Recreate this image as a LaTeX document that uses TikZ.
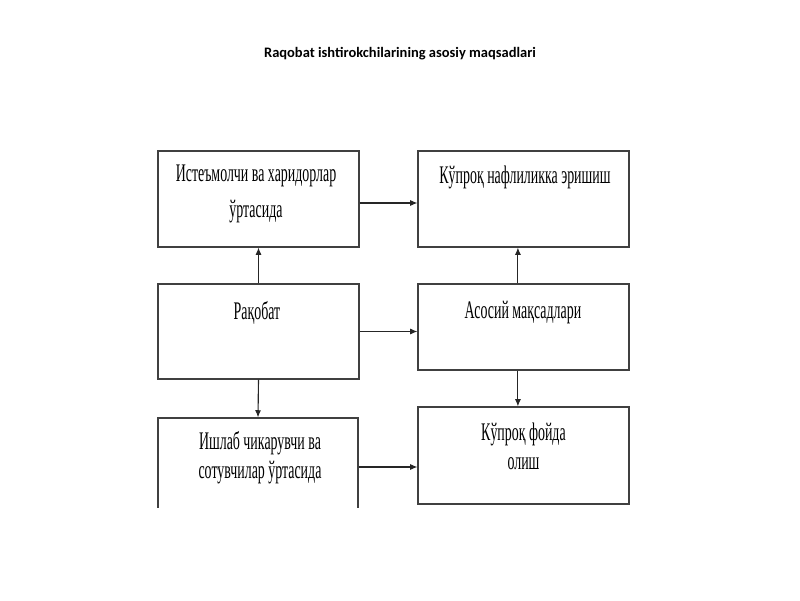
\documentclass[tikz,border=0pt]{standalone}
\usepackage{fontspec}
\usetikzlibrary{arrows.meta}
\setmainfont{Liberation Serif}
\newfontfamily\boxfont[FakeStretch=0.55]{Liberation Serif}
\newfontfamily\titlefont{Carlito}
\begin{document}
\begin{tikzpicture}

\tikzset{box/.style={draw=black!75,line width=0.8pt,rectangle,inner sep=0pt}}
\tikzset{txt/.style={font=\boxfont\fontsize{18}{21}\selectfont,align=center,inner sep=0pt}}
\tikzset{toBox/.style={-{Latex[length=1.8mm,width=1.5mm]},line width=0.8pt,color=black!85}}

\useasboundingbox (0,0) rectangle (20,15);

\node[font=\titlefont\bfseries\fontsize{10.3}{12}\selectfont] (title) at (10,13.65) {Raqobat ishtirokchilarining asosiy maqsadlari};

% left column
\node[box,minimum width=5.025cm,minimum height=2.4cm] (ist) at (6.4625,10.025) {};
\node[box,minimum width=5.025cm,minimum height=2.375cm] (raq) at (6.4625,6.7125) {};
\begin{scope}
\clip (0,2.325) rectangle (20,15);
\node[box,minimum width=5cm,minimum height=2.45cm] (ish) at (6.45,3.325) {};
\end{scope}

% right column
\node[box,minimum width=5.275cm,minimum height=2.4cm] (kup) at (13.0875,10.025) {};
\node[box,minimum width=5.275cm,minimum height=2.15cm] (aso) at (13.0875,6.825) {};
\node[box,minimum width=5.275cm,minimum height=2.425cm] (foy) at (13.0875,3.6125) {};

% texts
\node[txt] (istT) at (6.4,10.15) {Истеъмолчи ва харидорлар\\[5pt]ўртасида};
\node[txt] (raqT) at (6.425,7.175) {Рақобат};
\node[txt] (ishT) at (6.5,3.5625) {Ишлаб чикарувчи ва\\сотувчилар ўртасида};
\node[txt] (kupT) at (13.125,10.575) {Кўпроқ нафлиликка эришиш};
\node[txt] (asoT) at (13.075,7.175) {Асосий мақсадлари};
\node[txt] (foyT) at (13.0875,3.8375) {Кўпроқ фойда\\олиш};

% arrows
\draw[toBox] ([yshift=-0.1cm]ist.east) -- ([yshift=-0.1cm]kup.west);
\draw[toBox] (raq.east) -- (raq.east -| aso.west);
\draw[toBox] (ish.east) -- (ish.east -| foy.west);
\draw[toBox] (raq.north) -- (ist.south);
\draw[toBox] (raq.south) -- (ish.north);
\draw[toBox] ([xshift=-0.14cm]aso.north) -- ([xshift=-0.14cm]kup.south);
\draw[toBox] ([xshift=-0.14cm]aso.south) -- ([xshift=-0.14cm]foy.north);

\end{tikzpicture}
\end{document}
